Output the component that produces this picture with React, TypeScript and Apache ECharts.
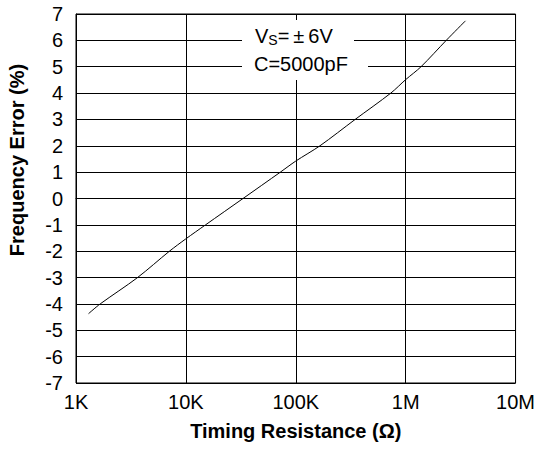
import React, { useEffect, useRef } from "react";
import * as echarts from "echarts";

const resistance = [1300, 1660, 3630, 7080, 10000, 15100, 33100, 72400, 100000, 166000, 347000, 733000, 1000000, 1380000, 2340000, 3500000];
const freqError = [-4.37, -4, -3, -2, -1.53, -1, 0, 1, 1.42, 2, 3, 4, 4.51, 5, 6, 6.74];
const xTickValues = [1e3, 1e4, 1e5, 1e6, 1e7];
const xTickLabels = ["1K", "10K", "100K", "1M", "10M"];

const FONT = "Liberation Sans, Arial, sans-serif";

export default function App() {
  const ref = useRef<HTMLDivElement>(null);
  useEffect(() => {
    document.body.style.margin = "0";
    const chart = echarts.init(ref.current!, null, { renderer: "svg" });
    chart.setOption({
      animation: false,
      grid: { left: 76, right: 14, top: 14, bottom: 70, show: true, borderColor: "#000", borderWidth: 1, containLabel: false },
      xAxis: {
        type: "log",
        min: 1e3,
        max: 1e7,
        logBase: 10,
        name: "Timing Resistance (\u03A9)",
        nameLocation: "middle",
        nameGap: 38,
        nameTextStyle: { fontFamily: FONT, fontSize: 20, fontWeight: "bold", color: "#000" },
        axisLine: { show: true, lineStyle: { color: "#000", width: 1 } },
        axisTick: { show: false },
        splitLine: { show: true, lineStyle: { color: "#000", width: 1 } },
        minorSplitLine: { show: false },
        axisLabel: {
          fontFamily: FONT,
          fontSize: 20,
          color: "#000",
          margin: 9,
          formatter: (v: number) => {
            const i = xTickValues.findIndex((t) => Math.abs(Math.log10(t) - Math.log10(v)) < 1e-6);
            return i >= 0 ? xTickLabels[i] : "";
          },
        },
      },
      yAxis: {
        type: "value",
        min: -7,
        max: 7,
        interval: 1,
        axisLine: { show: true, lineStyle: { color: "#000", width: 1 } },
        axisTick: { show: false },
        splitLine: { show: true, lineStyle: { color: "#000", width: 1 } },
        axisLabel: { fontFamily: FONT, fontSize: 20, color: "#000", margin: 13 },
      },
      series: [
        {
          type: "line",
          data: resistance.map((r, i) => [r, freqError[i]]),
          showSymbol: false,
          smooth: 0.3,
          lineStyle: { color: "#000", width: 1 },
          z: 3,
        },
      ],
      graphic: [
        {
          type: "text",
          x: 17,
          y: 160,
          rotation: Math.PI / 2,
          style: {
            text: "Frequency Error (%)",
            fontFamily: FONT,
            fontSize: 20,
            fontWeight: "bold",
            fill: "#000",
            align: "center",
            verticalAlign: "middle",
          },
        },
        { type: "rect", shape: { x: 242, y: 20, width: 112, height: 30 }, style: { fill: "#fff" }, z: 10 },
        { type: "rect", shape: { x: 242, y: 50, width: 126, height: 30 }, style: { fill: "#fff" }, z: 10 },
        {
          type: "text",
          x: 255,
          y: 36,
          z: 11,
          style: {
            text: "{v|V}{s|S}{v|=\u2009\u00B1\u20096V}",
            fontFamily: FONT,
            fill: "#000",
            verticalAlign: "middle",
            rich: {
              v: { fontSize: 20, fontFamily: FONT, fill: "#000", lineHeight: 22 },
              s: { fontSize: 14, fontFamily: FONT, fill: "#000", lineHeight: 22, padding: [8, 0, 0, 0] },
            },
          },
        },
        {
          type: "text",
          x: 254,
          y: 64,
          z: 11,
          style: {
            text: "C=5000pF",
            fontFamily: FONT,
            fontSize: 20,
            fill: "#000",
            verticalAlign: "middle",
          },
        },
      ],
    });
    return () => chart.dispose();
  }, []);
  return <div ref={ref} style={{ width: 538, height: 453, position: "absolute", left: 0, top: 0 }} />;
}
